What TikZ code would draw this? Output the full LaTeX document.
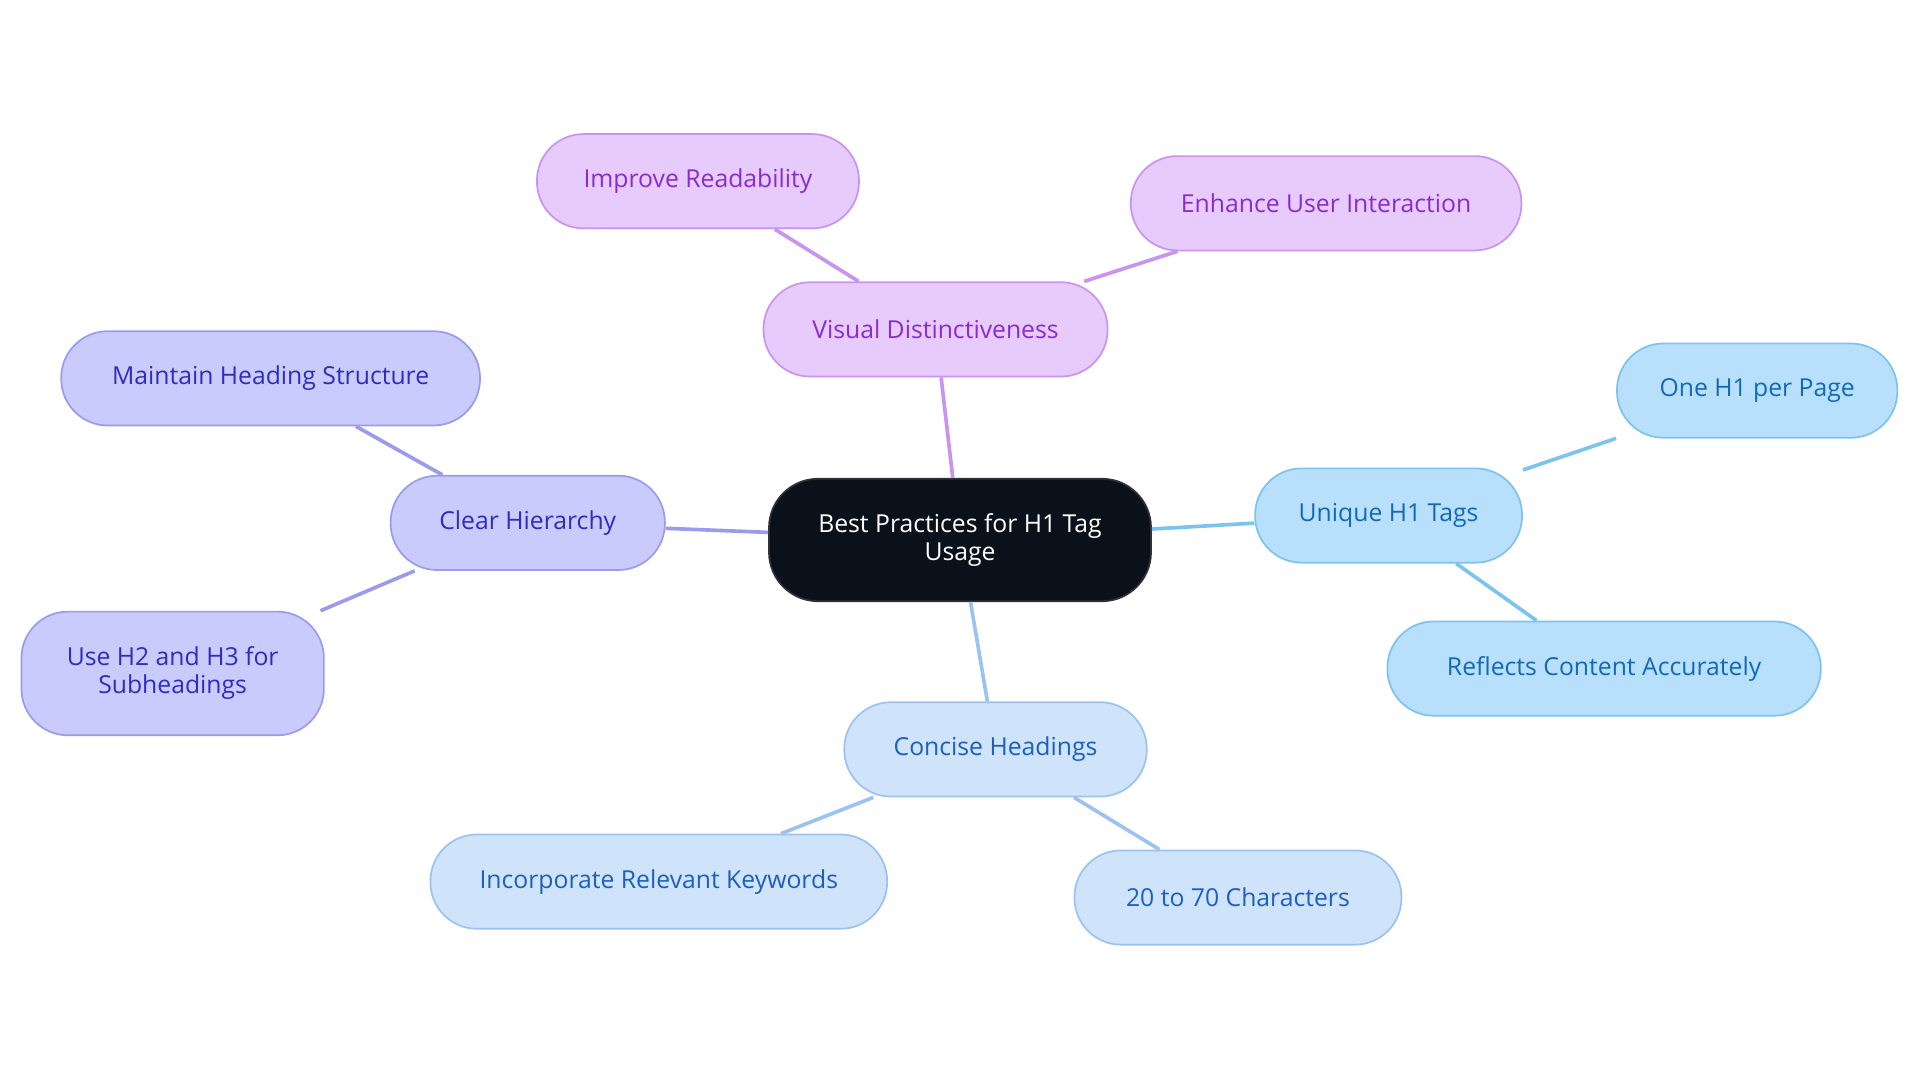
\documentclass[tikz,border=0pt]{standalone}
\usepackage{fontspec}
\setmainfont{Open Sans}
\begin{document}
\begin{tikzpicture}[x=0.02cm,y=-0.02cm,
 base/.style={rounded corners=0.76cm,draw,line width=0.8pt,align=center,font=\fontsize{11.5}{13}\selectfont,inner sep=0pt},
 pur/.style={base,fill=purF,draw=purD,text=purT},
 ind/.style={base,fill=indF,draw=indD,text=indT},
 sky/.style={base,fill=skyF,draw=skyD,text=skyT},
 blu/.style={base,fill=bluF,draw=bluD,text=bluT},
 ln/.style={line width=1.7pt}]
\definecolor{purF}{HTML}{E8CBFD}\definecolor{purD}{HTML}{C994F0}\definecolor{purT}{HTML}{8A2BD0}
\definecolor{indF}{HTML}{C9CBFD}\definecolor{indD}{HTML}{9B9BEE}\definecolor{indT}{HTML}{2E2DBE}
\definecolor{skyF}{HTML}{B8E0FD}\definecolor{skyD}{HTML}{7CC3F0}\definecolor{skyT}{HTML}{1369B8}
\definecolor{bluF}{HTML}{CFE3FB}\definecolor{bluD}{HTML}{9CC3EF}\definecolor{bluT}{HTML}{1D5FC0}
\definecolor{cen}{HTML}{0B111A}
\useasboundingbox (0,0) rectangle (1568,884);
\node[base,fill=cen,draw=cen!70!gray,text=white,minimum width=312*0.02cm,minimum height=100*0.02cm,rounded corners=0.8cm] (c) at (784,441) {Best Practices for H1 Tag\\Usage};
\node[pur,minimum width=281*0.02cm,minimum height=77*0.02cm] (v) at (764,269) {Visual Distinctiveness};
\node[pur,minimum width=263*0.02cm,minimum height=77*0.02cm] (v1) at (570,148) {Improve Readability};
\node[pur,minimum width=319*0.02cm,minimum height=77*0.02cm] (v2) at (1083,166) {Enhance User Interaction};
\node[ind,minimum width=224*0.02cm,minimum height=77*0.02cm] (h) at (431,427) {Clear Hierarchy};
\node[ind,minimum width=342*0.02cm,minimum height=77*0.02cm] (h1) at (221,309) {Maintain Heading Structure};
\node[ind,minimum width=247*0.02cm,minimum height=101*0.02cm] (h2) at (141,550) {Use H2 and H3 for\\Subheadings};
\node[sky,minimum width=218*0.02cm,minimum height=77*0.02cm] (u) at (1134,421) {Unique H1 Tags};
\node[sky,minimum width=229*0.02cm,minimum height=77*0.02cm] (u1) at (1435,319) {One H1 per Page};
\node[sky,minimum width=354*0.02cm,minimum height=77*0.02cm] (u2) at (1310,546) {Reflects Content Accurately};
\node[blu,minimum width=247*0.02cm,minimum height=77*0.02cm] (k) at (813,612) {Concise Headings};
\node[blu,minimum width=373*0.02cm,minimum height=77*0.02cm] (k1) at (538,720) {Incorporate Relevant Keywords};
\node[blu,minimum width=267*0.02cm,minimum height=77*0.02cm] (k2) at (1011,733) {20 to 70 Characters};
\begin{scope}[on background layer/.style={}]
\end{scope}
\draw[ln,purD] (c) -- (v); \draw[ln,purD] (v) -- (v1); \draw[ln,purD] (v) -- (v2);
\draw[ln,indD] (c) -- (h); \draw[ln,indD] (h) -- (h1); \draw[ln,indD] (h) -- (h2);
\draw[ln,skyD] (c) -- (u); \draw[ln,skyD] (u) -- (u1); \draw[ln,skyD] (u) -- (u2);
\draw[ln,bluD] (c) -- (k); \draw[ln,bluD] (k) -- (k1); \draw[ln,bluD] (k) -- (k2);
\end{tikzpicture}
\end{document}
